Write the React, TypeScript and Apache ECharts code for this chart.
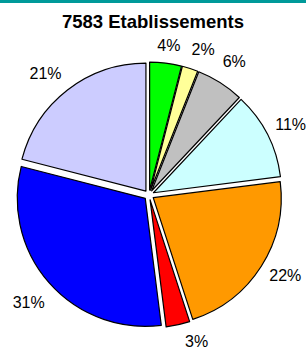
import React, { useEffect, useRef } from "react";
import * as echarts from "echarts";

const title = "7583 Etablissements";
const categories = ["S1", "S2", "S3", "S4", "S5", "S6", "S7", "S8"];
const values = [4, 2, 6, 11, 22, 3, 31, 21];
const colors = ["#00FF00", "#FFFF99", "#C0C0C0", "#CCFFFF", "#FF9900", "#FF0000", "#0000FF", "#CCCCFF"];
// hand-placed label nudges (px) relative to the default radial placement
const labelNudge = [[0, 8], [5, 6], [0, 1], [0, 2], [2, -5], [13, -9], [-1, 2], [-6, 4]];

const CX = 149;
const CY = 195;
const R = 128;

export default function App() {
  const ref = useRef<HTMLDivElement>(null);
  useEffect(() => {
    if (!ref.current) return;
    const chart = echarts.init(ref.current, null, { renderer: "svg" });
    chart.setOption({
      animation: false,
      backgroundColor: "#FFFFFF",
      title: {
        text: title,
        left: "center",
        top: 7,
        textStyle: { fontFamily: "Liberation Sans, Arial, sans-serif", fontSize: 18.5, fontWeight: "bold", color: "#000" },
      },
      graphic: [
        { type: "rect", left: 0, top: 0, shape: { width: 306, height: 3 }, style: { fill: "#009A9A" } },
      ],
      series: [
        {
          type: "pie",
          center: [CX, CY],
          radius: R,
          startAngle: 90,
          clockwise: true,
          selectedMode: "multiple",
          selectedOffset: 5,
          label: { show: false },
          labelLine: { show: false },
          itemStyle: { borderColor: "#000", borderWidth: 1.2 },
          emphasis: { disabled: true },
          data: categories.map((c, i) => ({
            name: c,
            value: values[i],
            selected: true,
            itemStyle: { color: colors[i] },
          })),
        },
        {
          type: "pie",
          center: [CX, CY],
          radius: [150, 162],
          startAngle: 90,
          clockwise: true,
          silent: true,
          selectedMode: false,
          avoidLabelOverlap: false,
          minShowLabelAngle: 0,
          itemStyle: { color: "rgba(0,0,0,0)", borderWidth: 0 },
          label: {
            show: true,
            position: "inside",
            rotate: 0,
            formatter: (p: any) => p.value + "%",
            fontFamily: "Liberation Sans, Arial, sans-serif",
            fontSize: 16,
            color: "#000",
            textBorderWidth: 0,
          },
          labelLine: { show: false },
          emphasis: { disabled: true },
          data: categories.map((c, i) => ({
            name: c,
            value: values[i],
            label: { offset: labelNudge[i] },
          })),
        },
      ],
    });
    return () => chart.dispose();
  }, []);
  return <div ref={ref} style={{ position: "fixed", left: 0, top: 0, width: 306, height: 349 }} />;
}
